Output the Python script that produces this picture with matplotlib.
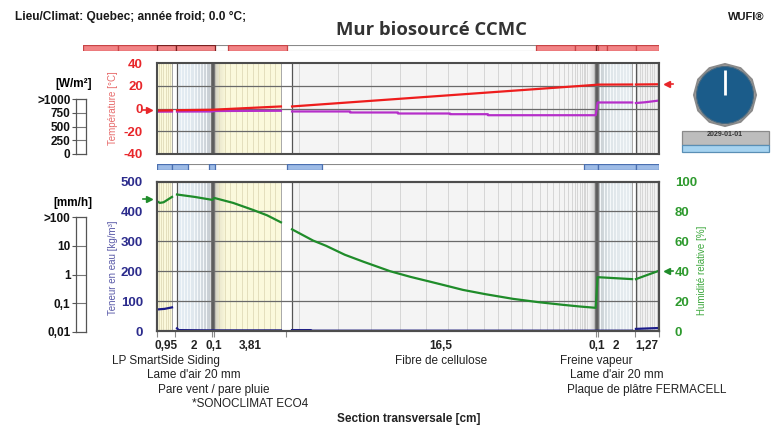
import numpy as np
import matplotlib
matplotlib.use("Agg")
import matplotlib.pyplot as plt
from matplotlib.patches import Rectangle, Circle, RegularPolygon
from matplotlib.colors import LinearSegmentedColormap
from matplotlib.transforms import blended_transform_factory

plt.rcParams['font.family'] = ['Liberation Sans', 'DejaVu Sans']

FIG_W, FIG_H = 773, 426

# ---------------- data ----------------
title = "Mur biosourcé CCMC"
climate_text = "Lieu/Climat: Quebec; année froid; 0.0 °C;"
brand_text = "WUFI®"
date_text = "2029-01-01"
xlabel = "Section transversale [cm]"

layer_names = ["LP SmartSide Siding", "Lame d'air 20 mm", "Pare vent / pare pluie",
               "*SONOCLIMAT ECO4", "Fibre de cellulose", "Freine vapeur",
               "Lame d'air 20 mm", "Plaque de plâtre FERMACELL"]
layer_thickness = [0.95, 2.0, 0.1, 3.81, 16.5, 0.1, 2.0, 1.27]
thickness_labels = ["0,95", "2", "0,1", "3,81", "16,5", "0,1", "2", "1,27"]
layer_material = ["wood", "air", "membrane", "fibre", "cellulose", "membrane", "air", "board"]
name_rows = [0, 1, 2, 3, 0, 0, 1, 2]

temp_ticks = [-40, -20, 0, 20, 40]
wc_ticks = [0, 100, 200, 300, 400, 500]
rh_ticks = [0, 20, 40, 60, 80, 100]
heat_scale_labels = ["0", "250", "500", "750", ">1000"]
rain_scale_labels = ["0,01", "0,1", "1", "10", ">100"]

# white interface gaps (cm)
gap_intervals = [(0.80, 1.065), (6.60, 7.19), (25.30, 25.50)]

# temperature [°C] along the section (cm)
temp_x = [0.0, 0.8, np.nan, 1.065, 2.95, 3.05, 6.6, np.nan, 7.19, 23.36, 23.46, 25.3, np.nan, 25.5, 26.73]
temp_y = [-1.8, -1.6, np.nan, -1.5, -1.1, -1.0, 1.8, np.nan, 1.8, 20.8, 21.0, 21.1, np.nan, 21.1, 21.3]

# dew point [°C]
dew_x = [0.0, 0.8, np.nan, 1.065, 2.95, 3.05, 6.6, np.nan,
         7.19, 10.28, 10.28, 12.83, 12.83, 15.6, 15.6, 17.62, 17.62, 23.36, 23.46, 25.3, np.nan,
         25.5, 26.0, 26.73]
dew_y = [-2.8, -2.7, np.nan, -2.7, -2.6, -2.2, -2.0, np.nan,
         -2.6, -2.6, -3.5, -3.5, -4.4, -4.4, -5.0, -5.0, -5.9, -5.9, 5.3, 5.3, np.nan,
         4.8, 5.5, 7.0]

# relative humidity [%]
rh_x = [0.0, 0.15, 0.35, 0.8, np.nan, 1.065, 2.0, 2.95, 3.05, 4.05, 5.11, 5.86, 6.6, np.nan,
        7.19, 8.31, 9.0, 10.0, 11.0, 12.41, 13.5, 14.54, 15.5, 16.29, 17.5, 18.96, 20.3, 21.62,
        22.5, 23.36, 23.46, 25.3, np.nan,
        25.5, 26.0, 26.73]
rh_y = [86.8, 85.7, 86.1, 89.7, np.nan, 91.3, 89.7, 87.7, 89.0, 85.7, 81.0, 77.4, 72.7, np.nan,
        68.0, 60.5, 57.0, 51.0, 46.3, 40.0, 36.2, 33.0, 30.0, 27.5, 24.6, 21.5, 19.3, 17.5,
        16.4, 15.5, 36.0, 34.7, np.nan,
        34.7, 37.0, 40.3]

# water content [kg/m³]
wc_x = [0.0, 0.4, 0.8, np.nan, 1.065, 1.15, 2.95, 3.05, 6.6, np.nan, 7.19, 8.2, 8.25, 23.36, 23.46, 25.3, np.nan, 25.5, 26.73]
wc_y = [72.0, 74.0, 79.0, np.nan, 9.0, 3.0, 2.0, 2.0, 2.0, np.nan, 3.0, 3.0, 1.0, 1.0, 1.0, 1.0, np.nan, 7.0, 10.0]

# boundary conditions
ext_temp, int_temp = -1.5, 21.8
ext_rh, int_rh = 88.0, 40.0

# indicator bars (cm, extended left of the wall)
flux_bar_segments = [(-3.94, -2.08), (-2.08, 0.0), (0.0, 1.01), (1.01, 3.09), (3.78, 6.92),
                     (20.18, 22.26), (22.26, 23.38), (23.38, 23.48), (23.48, 23.96), (23.96, 25.5), (25.5, 26.73)]
flux_bar_dark = [False, False, True, True, False, False, False, True, False, False, False]
moist_bar_segments = [(0.0, 0.8), (0.8, 1.65), (2.77, 3.09), (6.92, 8.79), (22.74, 23.48), (23.48, 25.5), (25.5, 26.73)]

# ---------------- derived ----------------
bounds = np.concatenate([[0], np.cumsum(layer_thickness)])
total = bounds[-1]
centers = (bounds[:-1] + bounds[1:]) / 2

fig = plt.figure(figsize=(FIG_W / 100, FIG_H / 100), dpi=100)


def px_axes(x0, y0, x1, y1, **kw):
    return fig.add_axes([x0 / FIG_W, 1 - y1 / FIG_H, (x1 - x0) / FIG_W, (y1 - y0) / FIG_H], **kw)


def fy(py):
    return 1 - py / FIG_H


PX0, PX1 = 157, 659
cm_per_px = total / (PX1 - PX0)

bg = {"wood": "#fbf9dc", "fibre": "#fbf9dc", "air": "#e3ecf3", "membrane": "#7d7d7d",
      "cellulose": "#f4f4f4", "board": "#f1f1f1"}
mesh_col = {"wood": "#e4dfbd", "fibre": "#e4dfbd", "air": "#f6f9fb", "cellulose": "#d6d6d6",
            "board": "#d6d6d6"}


def mesh_positions(i):
    a, b = bounds[i], bounds[i + 1]
    m = layer_material[i]
    if m == "wood":
        return np.arange(a + 0.1, b, 0.12)
    if m == "air":
        return np.arange(a + 0.15, b, 0.17)
    if m == "fibre":
        return np.arange(a + 0.25, b, 0.3)
    if m == "cellulose":
        return b - 15.8 * 0.87 ** np.arange(0, 26)
    if m == "board":
        return np.arange(a + 0.12, b, 0.13)
    return np.array([])


def draw_layers(ax, ylo, yhi):
    for i in range(len(layer_thickness)):
        a, b = bounds[i], bounds[i + 1]
        m = layer_material[i]
        ax.axvspan(a, b, color=bg[m], lw=0, zorder=0)
        if m != "membrane":
            ax.vlines(mesh_positions(i), ylo, yhi, colors=mesh_col[m], lw=0.7, zorder=0.5)
    grads = [
        (bounds[1], bounds[2], ["#e5eef5", "#e0e8ee", "#c4c9ce"]),
        (bounds[3], bounds[3] + 0.6, ["#cfcdc2", "#ece9cf", "#fbf9dc"]),
        (bounds[5] - 0.35, bounds[5], ["#f4f4f4", "#c9c9c9"]),
        (bounds[6], bounds[7], ["#c7cdd1", "#dfe6ea", "#e5ebef", "#e6ecef"]),
    ]
    for a, b, cols in grads:
        cm = LinearSegmentedColormap.from_list("g", cols)
        ax.imshow(np.linspace(0, 1, 64)[None, :], extent=[a, b, ylo, yhi], cmap=cm,
                  aspect="auto", interpolation="bilinear", zorder=0.3)
    for i in range(len(layer_thickness)):
        if layer_material[i] == "membrane":
            c = centers[i]
            ax.axvline(c, color="#777777", lw=3.2, zorder=0.8)
            ax.axvline(c, color="#5a5a5a", lw=1.2, zorder=0.9)
    for a, b in gap_intervals:
        ax.axvspan(a, b, color="white", lw=0, zorder=1)
        ax.axvline(a, color="#9a9a9a", lw=0.6, zorder=1.1)
        ax.axvline(b, color="#555555", lw=0.9, zorder=1.1)
    ax.set_xlim(0, total)
    ax.set_ylim(ylo, yhi)


def style_frame(ax):
    for s in ax.spines.values():
        s.set_color("#4d4d4d")
        s.set_linewidth(1.5)
        s.set_zorder(5)


# ---------------- temperature panel ----------------
ax_t = px_axes(PX0, 63, PX1, 154)
draw_layers(ax_t, -40, 40)
for t in temp_ticks[1:-1]:
    ax_t.axhline(t, color="#6a6a6a", lw=0.9, zorder=2)
ax_t.plot(dew_x, dew_y, color="#b52fc9", lw=1.6, zorder=3)
ax_t.plot(temp_x, temp_y, color="#ee1d1d", lw=1.6, zorder=4)
ax_t.set_yticks(temp_ticks)
ax_t.set_yticklabels([str(t) for t in temp_ticks], color="#e8262a", fontweight="bold", fontsize=9.5)
ax_t.tick_params(axis="y", length=0, pad=10)
ax_t.set_xticks([])
style_frame(ax_t)
ax_t.plot([-0.45], [ext_temp], marker=">", color="#e8262a", ms=5, clip_on=False, zorder=6)
ax_t.plot([-0.75, -0.45], [ext_temp, ext_temp], color="#e8262a", lw=1.2, clip_on=False, zorder=6)
ax_t.plot([total + 0.45], [int_temp], marker="<", color="#e8262a", ms=5, clip_on=False, zorder=6)
ax_t.plot([total + 0.45, total + 0.75], [int_temp, int_temp], color="#e8262a", lw=1.2, clip_on=False, zorder=6)

# ---------------- moisture panel ----------------
ax_b = px_axes(PX0, 181.5, PX1, 331)
draw_layers(ax_b, 0, 500)
for t in wc_ticks[1:-1]:
    ax_b.axhline(t, color="#6a6a6a", lw=0.9, zorder=2)
ax_rh = ax_b.twinx()
ax_rh.set_ylim(0, 100)
ax_rh.plot(rh_x, rh_y, color="#1f8c2a", lw=1.6, zorder=3)
ax_b.plot(wc_x, wc_y, color="#1b1b8a", lw=1.6, zorder=4)
ax_b.set_yticks(wc_ticks)
ax_b.set_yticklabels([str(t) for t in wc_ticks], color="#2b2b8c", fontweight="bold", fontsize=9.5)
ax_b.tick_params(axis="y", length=0, pad=10)
ax_rh.set_yticks(rh_ticks)
ax_rh.set_yticklabels([str(t) for t in rh_ticks], color="#2e9a2e", fontweight="bold", fontsize=9.5)
ax_rh.tick_params(axis="y", length=0, pad=11.5)
ax_b.set_xticks(bounds)
ax_b.set_xticklabels([])
ax_b.tick_params(axis="x", length=4, color="#8a8a8a", width=0.8)
style_frame(ax_b)
style_frame(ax_rh)
ax_rh.set_xlim(0, total)
ax_rh.plot([-0.45], [ext_rh], marker=">", color="#1f8c2a", ms=5, clip_on=False, zorder=6)
ax_rh.plot([-0.75, -0.45], [ext_rh, ext_rh], color="#1f8c2a", lw=1.2, clip_on=False, zorder=6)
ax_rh.plot([total + 0.45], [int_rh], marker="<", color="#1f8c2a", ms=5, clip_on=False, zorder=6)
ax_rh.plot([total + 0.45, total + 0.75], [int_rh, int_rh], color="#1f8c2a", lw=1.2, clip_on=False, zorder=6)

# axis titles (rotated)
fig.text(112.5 / FIG_W, fy(108.5), "Température [°C]", rotation=90, ha="center", va="center",
         color="#e76b6b", fontsize=7)
fig.text(112.5 / FIG_W, fy(268), "Teneur en eau [kg/m³]", rotation=90, ha="center", va="center",
         color="#5a5aa8", fontsize=7)
fig.text(702 / FIG_W, fy(270), "Humidité relative [%]", rotation=90, ha="center", va="center",
         color="#3ea83e", fontsize=7)

# layer labels below
tr = blended_transform_factory(ax_b.transData, fig.transFigure)
for c, lab in zip(centers, thickness_labels):
    ax_b.text(c, fy(346), lab, transform=tr, ha="center", va="center", fontsize=8.5,
              fontweight="bold", color="#222222")
row_y = [361, 375.5, 390, 404]
for c, name, r in zip(centers, layer_names, name_rows):
    ax_b.text(c, fy(row_y[r]), name, transform=tr, ha="center", va="center", fontsize=8.5,
              color="#222222")
fig.text(409 / FIG_W, fy(419), xlabel, ha="center", va="center", fontsize=8.5, fontweight="bold",
         color="#222222")

# ---------------- indicator bars ----------------
ax_fb = px_axes(83, 44.5, PX1, 50.5)
ax_fb.set_xlim(-(PX0 - 83) * cm_per_px, total)
ax_fb.set_ylim(0, 1)
ax_fb.axis("off")
ax_fb.add_patch(Rectangle((-(PX0 - 83) * cm_per_px, 0), total + (PX0 - 83) * cm_per_px, 1,
                          fc="white", ec="#8a8a8a", lw=0.8))
for (a, b), dark in zip(flux_bar_segments, flux_bar_dark):
    ax_fb.add_patch(Rectangle((a, 0), b - a, 1, fc="#f28486",
                              ec="#7a2020" if dark else "#c84446", lw=0.9))

ax_mb = px_axes(PX0, 164, PX1, 169.5)
ax_mb.set_xlim(0, total)
ax_mb.set_ylim(0, 1)
ax_mb.axis("off")
ax_mb.add_patch(Rectangle((0, 0), total, 1, fc="white", ec="#8a8a8a", lw=0.8))
for a, b in moist_bar_segments:
    ax_mb.add_patch(Rectangle((a, 0), b - a, 1, fc="#9dbbe6", ec="#4a6fb0", lw=0.9))

# ---------------- scale gauges ----------------
def gauge(y0, y1, labels):
    g = px_axes(76, y0, 86, y1)
    g.set_xlim(0, 1)
    g.set_ylim(0, len(labels) - 1)
    g.set_xticks([])
    g.set_yticks(range(len(labels)))
    g.set_yticklabels(labels, fontweight="bold", fontsize=8.5, color="#111111")
    g.tick_params(axis="y", length=3, width=0.8, color="#555555", pad=1)
    for k in range(1, len(labels) - 1):
        g.axhline(k, color="#777777", lw=0.8)
    for s in g.spines.values():
        s.set_color("#555555")
        s.set_linewidth(0.9)
    return g


gauge(99, 154, heat_scale_labels)
gauge(217, 332, rain_scale_labels)
fig.text(74 / FIG_W, fy(84), "[W/m²]", ha="center", va="center", fontsize=8.5, fontweight="bold")
fig.text(73 / FIG_W, fy(203), "[mm/h]", ha="center", va="center", fontsize=8.5, fontweight="bold")

# ---------------- header ----------------
fig.text(15 / FIG_W, fy(17), climate_text, ha="left", va="center", fontsize=8.6, fontweight="bold",
         color="#1a1a1a")
fig.text(728 / FIG_W, fy(17), brand_text, ha="left", va="center", fontsize=8, fontweight="bold",
         color="#1a1a1a")
fig.text(431 / FIG_W, fy(30), title, ha="center", va="center", fontsize=13.3, fontweight="bold",
         family=["Open Sans", "DejaVu Sans"], color="#333333")

# ---------------- clock & date ----------------
ov = fig.add_axes([0, 0, 1, 1], zorder=10)
ov.set_xlim(0, FIG_W)
ov.set_ylim(FIG_H, 0)
ov.axis("off")
ov.patch.set_alpha(0)
ov.add_patch(RegularPolygon((725, 95), numVertices=12, radius=31, fc="#a0a0a0", ec="#8a8a8a", lw=1.5))
ov.add_patch(Circle((725, 95), 28.5, fc="#1b5c8a", ec="#4a6a80", lw=0.8))
ov.plot([725, 725], [95, 70], color="white", lw=2, solid_capstyle="butt")
ov.add_patch(Rectangle((682, 131), 87, 14, fc="#bdbdbd", ec="#8a8a8a", lw=0.9))
ov.add_patch(Rectangle((682, 145), 87, 7, fc="#a6d3f0", ec="#5a8fb5", lw=0.9))
ov.text(725, 135, date_text, ha="center", va="center", fontsize=5, fontweight="bold", color="#333333")

fig.savefig("out.png", dpi=100)
